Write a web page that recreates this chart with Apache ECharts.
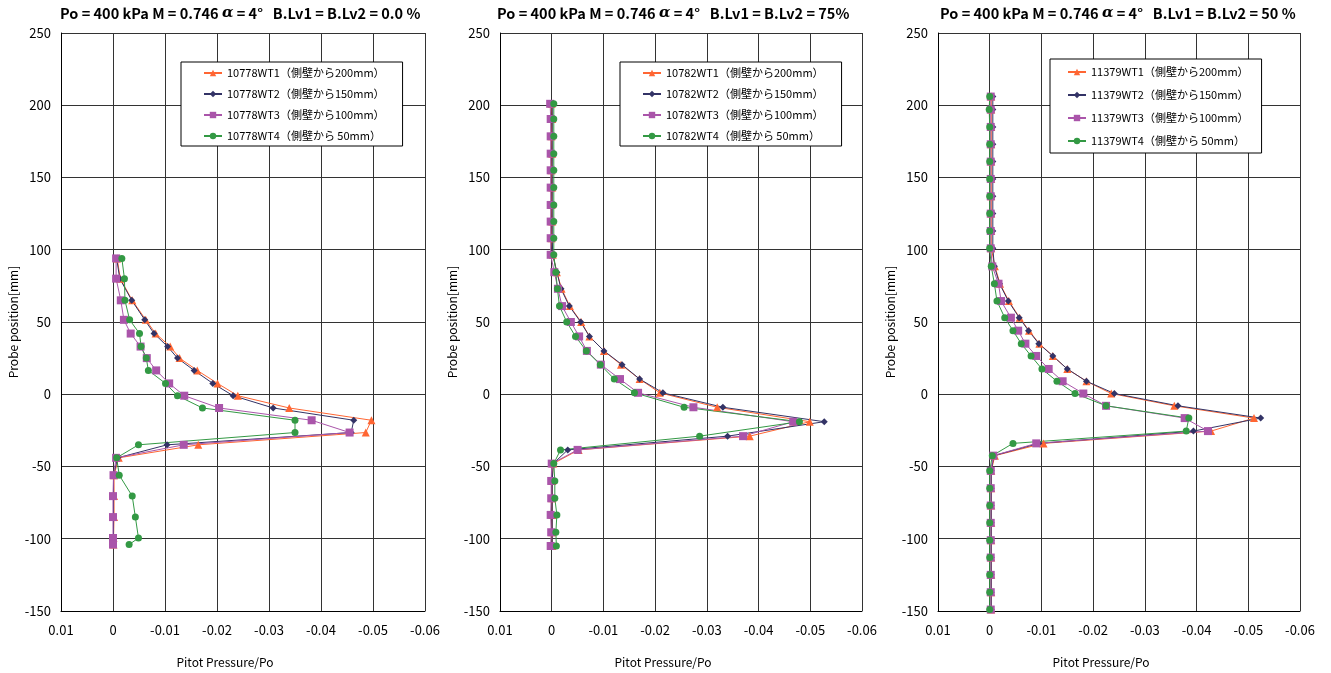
<!DOCTYPE html>
<html>
<head>
<meta charset="utf-8">
<script src="https://cdn.jsdelivr.net/npm/echarts@6/dist/echarts.min.js"></script>
<style>
html,body{margin:0;padding:0;background:#fff;}
#c{width:1331px;height:673px;}
</style>
</head>
<body>
<div id="c"></div>
<script>
// ---------- DATA ----------
const xTicks = [0.01, 0, -0.01, -0.02, -0.03, -0.04, -0.05, -0.06];
const yTicks = [250, 200, 150, 100, 50, 0, -50, -100, -150];

const titles = [
  ["Po = 400 kPa M = 0.746 ", "α", " = 4°   B.Lv1 = B.Lv2 = 0.0 %"],
  ["Po = 400 kPa M = 0.746 ", "α", " = 4°   B.Lv1 = B.Lv2 = 75%"],
  ["Po = 400 kPa M = 0.746 ", "α", " = 4°   B.Lv1 = B.Lv2 = 50 %"]
];
const runIds = ["10778", "10782", "11379"];
const wtSuffix = ["WT1（側壁から200mm）", "WT2（側壁から150mm）", "WT3（側壁から100mm）", "WT4（側壁から 50mm）"];

// Panel 1 (10778)
const p1Y   = [94, 80, 65, 51.5, 42, 33, 25, 16.5, 7.5, -1, -9.5, -18, -26.5, -35, -44, -56, -70.5, -85, -99.5, -104];
const p1WT1 = [-0.0008, -0.0014, -0.0037, -0.0063, -0.0082, -0.011, -0.0128, -0.0162, -0.0201, -0.024, -0.0339, -0.0497, -0.0486, -0.0164, -0.0011, -0.0002, -0.0002, -0.0002, -0.0001, -0.0001];
const p1WT2 = [-0.0007, -0.0013, -0.0036, -0.0061, -0.0079, -0.0105, -0.0124, -0.0156, -0.0192, -0.0231, -0.0308, -0.0463, -0.0458, -0.0104, -0.0009, -0.0001, -0.0001, -0.0001, -0.0001, -0.0001];
const p1WT3 = [-0.0006, -0.0006, -0.0015, -0.0021, -0.0034, -0.0053, -0.0065, -0.0083, -0.0108, -0.0137, -0.0204, -0.0382, -0.0455, -0.0136, -0.0006, -0.0001, 0, 0, 0, 0];
const p1WT4 = [-0.0017, -0.0022, -0.0023, -0.0032, -0.0051, -0.0054, -0.0064, -0.0068, -0.0101, -0.0124, -0.0172, -0.035, -0.035, -0.0049, -0.0007, -0.0012, -0.0037, -0.0043, -0.0049, -0.0031];

// Panel 2 (10782)
const p2Y   = [201, 190.5, 178.5, 166.5, 155, 143, 131, 119.5, 108, 96.5, 84.5, 73, 61, 50, 40, 30, 20.5, 10.5, 1, -9, -19, -29, -38.5, -48, -60, -72, -83.5, -95.5, -105];
const p2WT1 = [0, -0.0001, 0, -0.0001, 0, -0.0001, 0, -0.0001, 0, -0.0002, -0.001, -0.0019, -0.0035, -0.0057, -0.0073, -0.0101, -0.0134, -0.017, -0.0209, -0.032, -0.0499, -0.0383, -0.0052, -0.0003, -0.0001, -0.0001, -0.0001, -0.0001, -0.0001];
const p2WT2 = [-0.0001, -0.0001, -0.0001, -0.0001, -0.0001, -0.0001, -0.0001, -0.0001, -0.0001, -0.0002, -0.001, -0.0018, -0.0034, -0.0056, -0.0073, -0.0101, -0.0136, -0.017, -0.0215, -0.0331, -0.0527, -0.034, -0.0031, -0.0003, -0.0001, -0.0001, -0.0001, -0.0001, -0.0001];
const p2WT3 = [0.0003, 0.0002, 0.0002, 0.0002, 0.0002, 0.0002, 0.0002, 0.0002, 0.0002, 0.0002, -0.0005, -0.0012, -0.002, -0.0037, -0.0053, -0.0068, -0.0095, -0.0132, -0.0167, -0.0274, -0.0467, -0.037, -0.005, 0, 0.0001, 0.0001, 0.0002, 0.0001, 0.0002];
const p2WT4 = [-0.0004, -0.0004, -0.0004, -0.0004, -0.0004, -0.0004, -0.0004, -0.0004, -0.0004, -0.0004, -0.0008, -0.0011, -0.0015, -0.0029, -0.0046, -0.0067, -0.0094, -0.0121, -0.016, -0.0256, -0.0479, -0.0286, -0.0017, -0.0004, -0.0006, -0.0006, -0.001, -0.0008, -0.0009];

// Panel 3 (11379)
const p3Y   = [206, 197, 185, 173, 161, 149, 137, 125, 113, 101, 88.5, 76.5, 64.5, 53, 44, 35, 26.5, 17.5, 9, 0.5, -8, -16.5, -25.5, -34, -42.5, -53, -65, -77, -89, -101, -113, -125, -137, -149];
const p3WT1 = [-0.0003, -0.0003, -0.0003, -0.0003, -0.0003, -0.0003, -0.0003, -0.0003, -0.0003, -0.0003, -0.001, -0.002, -0.0037, -0.0058, -0.0076, -0.0096, -0.0122, -0.015, -0.0187, -0.0235, -0.0357, -0.0511, -0.0428, -0.0104, -0.001, -0.0003, -0.0003, -0.0003, -0.0003, -0.0003, -0.0003, -0.0003, -0.0003, -0.0003];
const p3WT2 = [-0.0006, -0.0006, -0.0006, -0.0006, -0.0006, -0.0006, -0.0006, -0.0006, -0.0006, -0.0006, -0.0009, -0.0019, -0.0036, -0.0057, -0.0075, -0.0095, -0.0122, -0.015, -0.0187, -0.0241, -0.0364, -0.0524, -0.0394, -0.0095, -0.0008, -0.0003, -0.0003, -0.0003, -0.0003, -0.0003, -0.0003, -0.0003, -0.0003, -0.0003];
const p3WT3 = [-0.0002, -0.0002, -0.0002, -0.0002, -0.0002, -0.0002, -0.0002, -0.0002, -0.0002, -0.0002, -0.0005, -0.0017, -0.0022, -0.0041, -0.0055, -0.0069, -0.009, -0.0114, -0.0141, -0.0181, -0.0225, -0.0377, -0.0422, -0.009, -0.0007, -0.0002, -0.0002, -0.0002, -0.0002, -0.0002, -0.0002, -0.0002, -0.0002, -0.0002];
const p3WT4 = [0, 0.0001, 0, 0, 0, 0, 0, 0, 0, 0, -0.0003, -0.0009, -0.0014, -0.0029, -0.0045, -0.0061, -0.008, -0.0101, -0.013, -0.0165, -0.0225, -0.0385, -0.038, -0.0045, -0.0005, 0, 0, 0, 0, 0, 0, 0, 0, 0];

const panels = [
  {y: p1Y, s: [p1WT1, p1WT2, p1WT3, p1WT4]},
  {y: p2Y, s: [p2WT1, p2WT2, p2WT3, p2WT4]},
  {y: p3Y, s: [p3WT1, p3WT2, p3WT3, p3WT4]}
];

// ---------- STYLE / LAYOUT ----------
const FONT = '"Noto Sans CJK JP", "Noto Sans", sans-serif';
const colors  = ['#FF6633', '#333366', '#AA55AA', '#339944'];
const symbols = ['triangle', 'diamond', 'rect', 'circle'];
const symSizes = [8, 7, 8, 7];
const gridPos = [
  {left: 61,  top: 33, width: 364, height: 578},
  {left: 500, top: 33, width: 362, height: 578},
  {left: 938, top: 33, width: 362, height: 578}
];
const legendPos = [
  {left: 181, top: 62, padding: [4, 18, 3, 22], itemGap: 7},
  {left: 620, top: 62, padding: [4, 18, 3, 22], itemGap: 7},
  {left: 1050, top: 59, padding: [6, 13, 5, 17], itemGap: 9}
];
const titleLeft = [60, 497, 940];

const grid = [], xAxis = [], yAxis = [], series = [], legend = [], title = [];
panels.forEach((p, i) => {
  grid.push(Object.assign({containLabel: false}, gridPos[i]));
  xAxis.push({
    type: 'value', gridIndex: i, min: -0.06, max: 0.01, interval: 0.01, inverse: true,
    name: 'Pitot Pressure/Po', nameLocation: 'middle', nameGap: 45,
    nameTextStyle: {fontFamily: FONT, fontSize: 12, color: '#000', padding: [0, 36, 0, 0]},
    axisLine: {onZero: false, lineStyle: {color: '#000', width: 1}},
    axisTick: {show: false},
    axisLabel: {fontFamily: FONT, fontSize: 13, color: '#000', margin: 13,
      formatter: v => { const r = Math.round(v * 100) / 100; return r === 0 ? '0' : String(r); }},
    splitLine: {show: true, lineStyle: {color: '#333', width: 1}}
  });
  yAxis.push({
    type: 'value', gridIndex: i, min: -150, max: 250, interval: 50,
    name: 'Probe position[mm]', nameLocation: 'middle', nameGap: 42,
    nameTextStyle: {fontFamily: FONT, fontSize: 12, color: '#000'},
    axisLine: {onZero: false, lineStyle: {color: '#000', width: 1}},
    axisTick: {show: false},
    axisLabel: {fontFamily: FONT, fontSize: 13, color: '#000', margin: 10},
    splitLine: {show: true, lineStyle: {color: '#333', width: 1}}
  });
  const names = [];
  p.s.forEach((vals, k) => {
    const name = runIds[i] + wtSuffix[k];
    names.push(name);
    series.push({
      type: 'line', name: name, xAxisIndex: i, yAxisIndex: i,
      data: p.y.map((yy, j) => [vals[j], yy]),
      symbol: symbols[k], symbolSize: symSizes[k],
      lineStyle: {color: colors[k], width: 1},
      itemStyle: {color: colors[k]},
      animation: false
    });
  });
  legend.push({
    data: names, orient: 'vertical', left: legendPos[i].left, top: legendPos[i].top,
    padding: legendPos[i].padding, itemGap: legendPos[i].itemGap,
    itemWidth: 18, itemHeight: 8,
    backgroundColor: '#fff', borderColor: '#000', borderWidth: 1, borderRadius: 0,
    textStyle: {fontFamily: FONT, fontSize: 11, color: '#000', lineHeight: 14},
    selectedMode: false
  });
  title.push({
    text: titles[i][0] + '{a|' + titles[i][1] + '}' + titles[i][2],
    left: titleLeft[i], top: 6, padding: 0,
    textStyle: {fontFamily: FONT, fontSize: 14.5, fontWeight: 'bold', color: '#000',
      rich: {a: {fontFamily: 'DejaVu Serif, serif', fontStyle: 'italic', fontSize: 15, fontWeight: 'bold', color: '#000'}}}
  });
});

const chart = echarts.init(document.getElementById('c'), null, {renderer: 'canvas'});
chart.setOption({
  backgroundColor: '#fff',
  animation: false,
  title: title, grid: grid, xAxis: xAxis, yAxis: yAxis, legend: legend, series: series
});
</script>
</body>
</html>
